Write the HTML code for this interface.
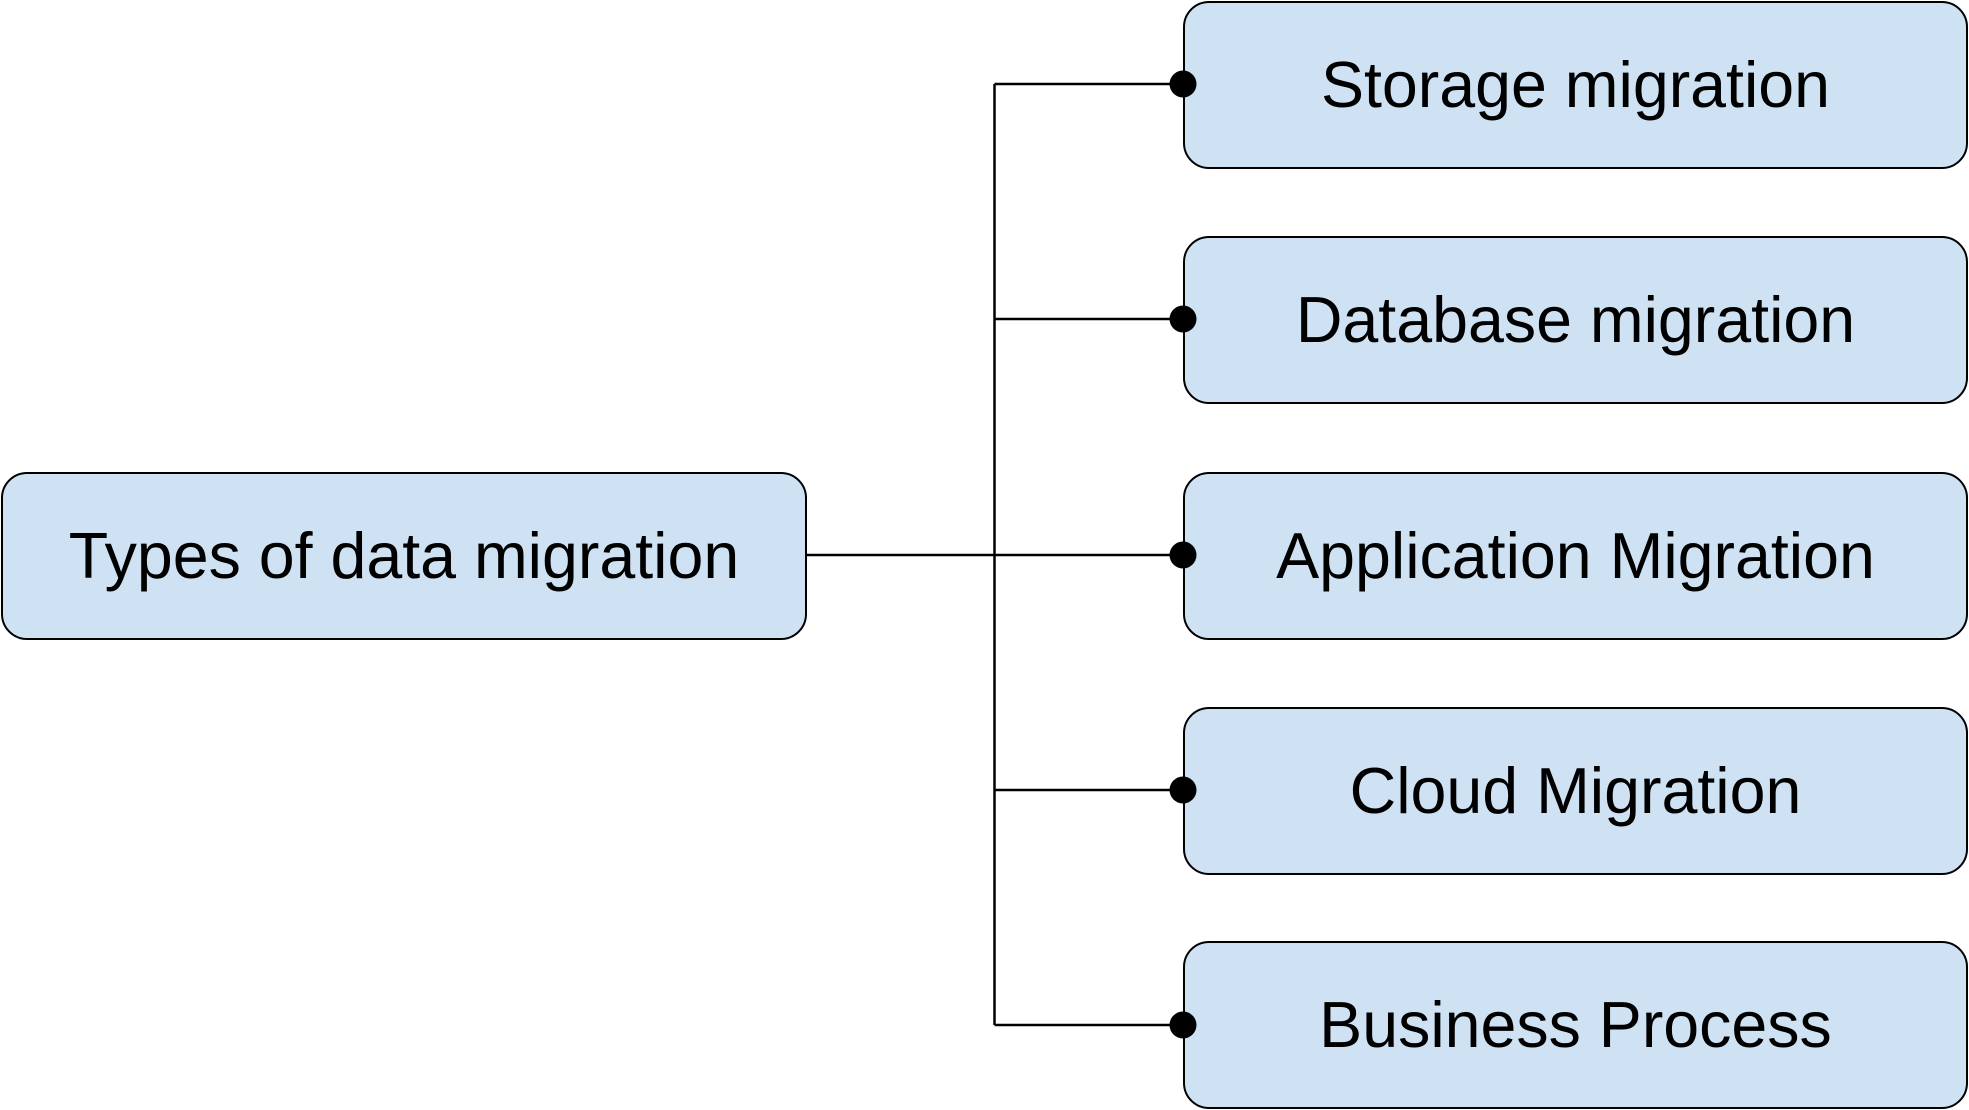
<!DOCTYPE html>
<html><head><style>
html,body{margin:0;padding:0;background:#fff;}
body{width:1969px;height:1110px;position:relative;overflow:hidden;}
.b{position:absolute;box-sizing:border-box;background:#cfe2f3;border:2.5px solid #000;border-radius:26px;display:flex;align-items:center;justify-content:center;font-family:"Liberation Sans",sans-serif;font-size:64.5px;color:#000;white-space:nowrap;}
svg{position:absolute;left:0;top:0;}
</style></head><body>
<svg width="1969" height="1110">
<g stroke="#000" stroke-width="2.5" fill="none">
<line x1="806" y1="555" x2="1183" y2="555"/>
<line x1="994.5" y1="84" x2="994.5" y2="1025"/>
<line x1="994.5" y1="84" x2="1183" y2="84"/>
<line x1="994.5" y1="319" x2="1183" y2="319"/>
<line x1="994.5" y1="790" x2="1183" y2="790"/>
<line x1="994.5" y1="1025" x2="1183" y2="1025"/>
</g>
</svg>
<div class="b" style="left:1px;top:472px;width:806px;height:168px;">Types of data migration</div>
<div class="b" style="left:1183px;top:1px;width:785px;height:168px;">Storage migration</div>
<div class="b" style="left:1183px;top:236px;width:785px;height:168px;">Database migration</div>
<div class="b" style="left:1183px;top:472px;width:785px;height:168px;">Application Migration</div>
<div class="b" style="left:1183px;top:707px;width:785px;height:168px;">Cloud Migration</div>
<div class="b" style="left:1183px;top:941px;width:785px;height:168px;">Business Process</div>
<svg width="1969" height="1110">
<g fill="#000">
<circle cx="1183" cy="84" r="13.5"/>
<circle cx="1183" cy="319" r="13.5"/>
<circle cx="1183" cy="555" r="13.5"/>
<circle cx="1183" cy="790" r="13.5"/>
<circle cx="1183" cy="1025" r="13.5"/>
</g>
</svg>
</body></html>
